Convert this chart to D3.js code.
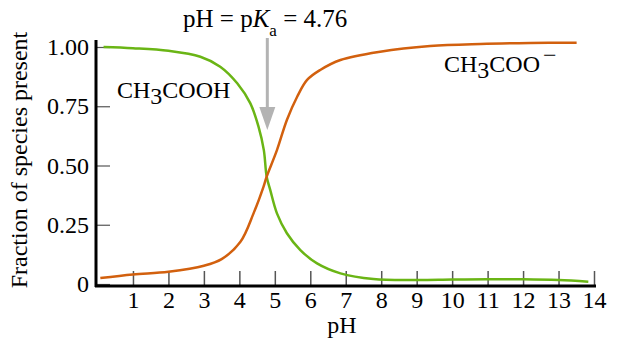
<!DOCTYPE html>
<html lang="en">
<head>
<meta charset="utf-8">
<title>Acetic acid speciation</title>
<script src="https://d3js.org/d3.v7.min.js"></script>
<style type="text/css">
  body { margin: 0; background: #fff; }
  text { font-family: "Liberation Serif", "Times New Roman", Times, serif; fill: #000; }
</style>
</head>
<body>
<script type="text/javascript">

// data
var acidPH    = [0.17, 1, 2, 2.9, 3.46, 3.94, 4.31, 4.54, 4.69, 4.77, 4.87, 5.06, 5.34, 5.72, 6.19, 6.85, 7.78, 9, 10, 11, 12, 13, 13.84];
var acidFrac  = [1.00, 0.995, 0.984, 0.959, 0.917, 0.847, 0.762, 0.664, 0.565, 0.453, 0.397, 0.298, 0.214, 0.143, 0.087, 0.045, 0.021, 0.017, 0.019, 0.02, 0.02, 0.017, 0.01];
var basePH    = [0.08, 1, 2, 3, 3.5, 4.03, 4.40, 4.68, 4.77, 5.06, 5.34, 5.63, 5.91, 6.28, 6.85, 7.97, 9.38, 10.8, 12.2, 13.51];
var baseFrac  = [0.025, 0.04, 0.052, 0.077, 0.105, 0.178, 0.298, 0.41, 0.453, 0.565, 0.692, 0.79, 0.861, 0.903, 0.945, 0.98, 1.004, 1.013, 1.017, 1.018];
var xTicks    = [1, 2, 3, 4, 5, 6, 7, 8, 9, 10, 11, 12, 13, 14];
var yTicks    = [0, 0.25, 0.5, 0.75, 1];
var yLabels   = ["0", "0.25", "0.50", "0.75", "1.00"];
var pKa = 4.76;

var svgWidth = 628, svgHeight = 356;

var svg = d3.select("body").append("svg")
    .attr("width", svgWidth)
    .attr("height", svgHeight);

var x = d3.scaleLinear().domain([0, 14]).range([97.5, 594]);
var y = d3.scaleLinear().domain([0, 1]).range([284, 47]);

// axes
var xAxis = d3.axisBottom(x).tickValues(xTicks).tickSize(-14).tickPadding(6);
var gx = svg.append("g").attr("transform", "translate(0,285)").call(xAxis);
gx.select(".domain").remove();
gx.selectAll("line").attr("stroke", "#555").attr("stroke-width", 1.5);
gx.selectAll("text").attr("font-size", 24).attr("font-family", null);

var yAxis = d3.axisLeft(y).tickValues(yTicks).tickSize(-14).tickPadding(7)
    .tickFormat(function(d, i) { return yLabels[i]; });
var gy = svg.append("g").attr("transform", "translate(96,0)").call(yAxis);
gy.select(".domain").remove();
gy.selectAll("line").attr("stroke", "#555").attr("stroke-width", 1.2);
gy.selectAll("text").attr("font-size", 24).attr("font-family", null);

// thick axis lines
svg.append("line").attr("x1", 96).attr("x2", 96).attr("y1", 40).attr("y2", 287)
    .attr("stroke", "#000").attr("stroke-width", 3);
svg.append("line").attr("x1", 95).attr("x2", 596).attr("y1", 286).attr("y2", 286)
    .attr("stroke", "#000").attr("stroke-width", 3);

// curves
var line = d3.line()
    .x(function(d) { return x(d[0]); })
    .y(function(d) { return y(d[1]); })
    .curve(d3.curveCatmullRom.alpha(0.5));

svg.append("path")
    .attr("d", line(d3.zip(acidPH, acidFrac)))
    .attr("fill", "none").attr("stroke", "#6ab515").attr("stroke-width", 2.5);

svg.append("path")
    .attr("d", line(d3.zip(basePH, baseFrac)))
    .attr("fill", "none").attr("stroke", "#d2600e").attr("stroke-width", 2.5);

// arrow at pKa
var ax = x(pKa) + 1;
svg.append("line").attr("x1", ax).attr("x2", ax).attr("y1", 38).attr("y2", 110)
    .attr("stroke", "#b3b3b3").attr("stroke-width", 3);
svg.append("path")
    .attr("d", "M" + (ax - 8) + ",107L" + (ax + 8) + ",107L" + ax + ",130Z")
    .attr("fill", "#b3b3b3");

// title
var t = svg.append("text").attr("x", 183).attr("y", 27).attr("font-size", 25);
t.append("tspan").text("pH = p");
t.append("tspan").attr("font-style", "italic").text("K");
t.append("tspan").attr("font-size", 17).attr("dy", 9).text("a");
t.append("tspan").attr("dy", -9).text(" = 4.76");

// species labels
var l1 = svg.append("text").attr("x", 117).attr("y", 98).attr("font-size", 24);
l1.append("tspan").text("CH");
l1.append("tspan").attr("dy", 6).text("3");
l1.append("tspan").attr("dy", -6).text("COOH");

var l2 = svg.append("text").attr("x", 444).attr("y", 72).attr("font-size", 24);
l2.append("tspan").text("CH");
l2.append("tspan").attr("dy", 6).text("3");
l2.append("tspan").attr("dy", -6).text("COO");
l2.append("tspan").attr("dy", -9).attr("dx", 3).text("\u2212");

// axis titles
svg.append("text").attr("x", 342).attr("y", 333).attr("text-anchor", "middle")
    .attr("font-size", 24).text("pH");
svg.append("text").attr("transform", "translate(27,160) rotate(-90)")
    .attr("text-anchor", "middle").attr("font-size", 24)
    .text("Fraction of species present");

</script>
</body>
</html>
